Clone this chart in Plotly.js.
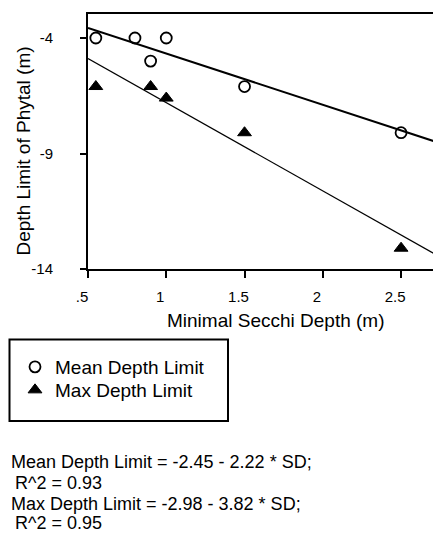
<!DOCTYPE html>
<html>
<head>
<meta charset="utf-8">
<script src="https://cdn.plot.ly/plotly-3.0.1.min.js"></script>
<style>
  html, body { margin: 0; padding: 0; background: #fff; }
  #chart { width: 433px; height: 540px; }
</style>
</head>
<body>
<div id="chart"></div>
<script>
// ---- data ----
const meanX = [0.55, 0.8, 1.0, 0.9, 1.5, 2.5];
const meanY = [-4.0, -4.0, -4.0, -5.0, -6.1, -8.1];
const maxX = [0.55, 0.9, 1.0, 1.5, 2.5];
const maxY = [-6.1, -6.1, -6.6, -8.1, -13.1];
// regression lines (end points, from the printed equations)
const fitX = [0.5, 2.75];
const meanFitY = [-3.56, -8.555];
const maxFitY = [-4.89, -13.485];
const xTickVals = [0.5, 1, 1.5, 2, 2.5];
const xTickText = [".5", "1", "1.5", "2", "2.5"];
const yTickVals = [-4, -9, -14];
const yTickText = ["-4", "-9", "-14"];
const seriesNames = ["Mean Depth Limit", "Max Depth Limit"];
const xTitle = "Minimal Secchi Depth (m)";
const yTitle = "Depth Limit of Phytal (m)";
const equations = [
  "Mean Depth Limit = -2.45 - 2.22 * SD;",
  "R^2 = 0.93",
  "Max Depth Limit = -2.98 - 3.82 * SD;",
  "R^2 = 0.95"
];

const FONT = "Liberation Sans, Arial, sans-serif";
const W = 433, H = 540;
const L = 88, R = 0, T = 14, B = 271;
const pw = W - L - R, ph = H - T - B;
const px = v => (v - L) / pw;       // pixel x -> paper x
const py = v => (H - B - v) / ph;   // pixel y -> paper y

const traces = [
  { x: fitX, y: meanFitY, mode: "lines", line: { color: "#000", width: 2 },
    showlegend: false, hoverinfo: "skip" },
  { x: fitX, y: maxFitY, mode: "lines", line: { color: "#000", width: 1.2 },
    showlegend: false, hoverinfo: "skip" },
  { x: meanX, y: meanY, mode: "markers", name: seriesNames[0], legend: "legend",
    marker: { symbol: "circle-open", size: 11, color: "#000", line: { width: 1.8, color: "#000" } } },
  { x: maxX, y: maxY, mode: "markers", name: seriesNames[1], legend: "legend2",
    marker: { symbol: "triangle-up", size: 12, color: "#000", line: { width: 1, color: "#000" } } }
];

const baseFont = { family: FONT, size: 18, color: "#000" };
const annotations = [
  { text: xTitle, x: px(275.5), y: py(320), xanchor: "center",
    font: { family: FONT, size: 19, color: "#000" } },
  { text: yTitle, x: px(23), y: py(151.5), xanchor: "center", textangle: -90,
    font: { family: FONT, size: 19, color: "#000" } },
  { text: equations[0], x: px(8.5), y: py(462), xanchor: "left" },
  { text: equations[1], x: px(13), y: py(483), xanchor: "left" },
  { text: equations[2], x: px(8.5), y: py(504), xanchor: "left" },
  { text: equations[3], x: px(13), y: py(523), xanchor: "left" }
].map(a => Object.assign({
  xref: "paper", yref: "paper", yanchor: "middle", showarrow: false, font: baseFont
}, a));

const legendBase = {
  xanchor: "left", yanchor: "middle",
  bgcolor: "rgba(0,0,0,0)", borderwidth: 0,
  font: { family: FONT, size: 19, color: "#000" }
};

const layout = {
  width: W, height: H,
  margin: { l: L, r: R, t: T, b: B, pad: 0 },
  paper_bgcolor: "#fff", plot_bgcolor: "#fff",
  font: { family: FONT, color: "#000" },
  showlegend: true,
  legend: Object.assign({ x: px(15), y: py(367) }, legendBase),
  legend2: Object.assign({ x: px(15), y: py(390) }, legendBase),
  xaxis: {
    range: [0.5, 2.704], showgrid: false, zeroline: false,
    showline: true, linecolor: "#000", linewidth: 2, mirror: true,
    ticks: "outside", ticklen: 7, tickwidth: 2, tickcolor: "#000",
    tickvals: xTickVals, ticktext: xTickText, ticklabelstandoff: 6, ticklabelshift: -6,
    tickfont: { family: FONT, size: 15, color: "#000" }
  },
  yaxis: {
    range: [-14, -2.96], showgrid: false, zeroline: false,
    showline: true, linecolor: "#000", linewidth: 2,
    ticks: "outside", ticklen: 6, tickwidth: 2, tickcolor: "#000",
    tickvals: yTickVals, ticktext: yTickText, ticklabelstandoff: 24,
    tickfont: { family: FONT, size: 15, color: "#000" }
  },
  shapes: [
    { type: "rect", xref: "paper", yref: "paper",
      x0: px(9.5), x1: px(228), y0: py(339.5), y1: py(421),
      line: { color: "#000", width: 2 }, fillcolor: "rgba(0,0,0,0)" }
  ],
  annotations: annotations
};

Plotly.newPlot("chart", traces, layout, { staticPlot: true, displayModeBar: false });
</script>
</body>
</html>
